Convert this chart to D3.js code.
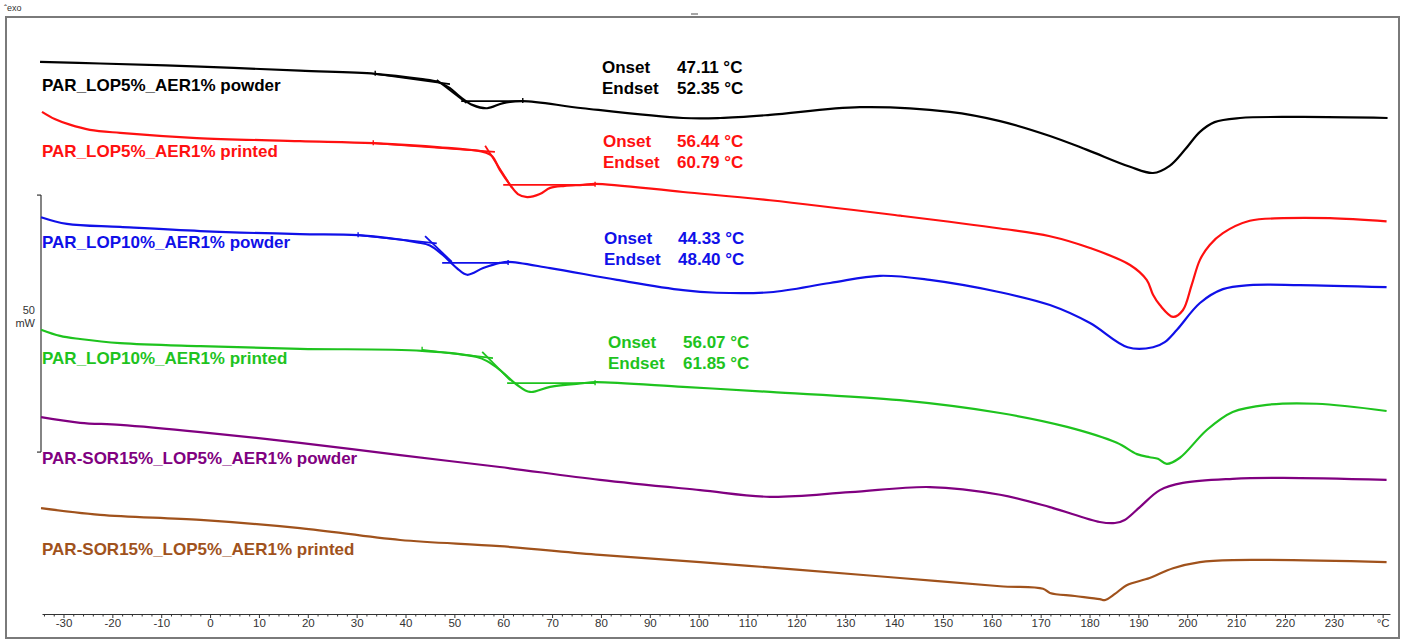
<!DOCTYPE html>
<meta charset="utf-8">
<script src="https://d3js.org/d3.v7.min.js"></script>
<style>
body { margin: 0; background: #fff; }
text { font-family: "Liberation Sans", Arial, sans-serif; }
</style>

<div id="my_dataviz"></div>

<script>

// DSC curves: [temperature °C, heat flow mW] (stacked offsets as exported)
var lop5Powder = [[-34.8,107.4],[-22.5,107.1],[-2.0,106.5],[18.4,105.7],[33.8,105.1],[43.0,104.1],[46.7,103.5],
  [49.1,102.3],[51.2,100.6],[53.8,99.0],[56.7,98.4],[60.0,99.4],[64.0,99.8],[76.3,98.4],[96.8,96.5],[104.4,96.5],
  [114.6,97.1],[133.0,98.6],[151.4,97.7],[161.7,95.9],[171.9,93.0],[179.5,90.3],[188.3,87.0],[193.0,85.8],
  [196.4,87.2],[199.5,90.3],[202.6,93.8],[205.6,95.7],[210.8,96.5],[223.0,96.7],[241.0,96.5]];

var lop5Printed = [[-34.4,97.7],[-31.8,96.3],[-28.7,95.2],[-24.6,94.2],[-18.4,93.6],[-2.7,92.6],[18.4,92.0],
  [33.4,91.6],[47.1,90.8],[55.9,89.9],[57.7,89.1],[59.3,86.4],[61.4,83.5],[63.0,81.7],[64.9,81.1],[67.5,81.7],
  [69.6,82.9],[72.6,83.3],[76.3,83.5],[78.8,83.7],[96.8,82.1],[114.6,80.5],[141.2,77.5],[161.7,75.0],[171.9,73.5],
  [180.1,71.2],[188.3,67.9],[191.7,65.0],[193.0,62.1],[194.4,60.1],[197.1,57.8],[199.1,59.1],[200.9,64.0],
  [202.6,68.9],[204.6,71.8],[207.3,74.1],[212.8,76.5],[219.6,77.0],[229.2,77.0],[240.8,76.4]];

var lop10Powder = [[-34.6,77.2],[-29.3,75.9],[-18.4,75.3],[-2.0,74.5],[18.4,73.9],[30.3,73.7],[42.4,72.3],
  [45.0,71.7],[47.7,69.8],[50.5,67.3],[52.6,66.0],[55.9,67.3],[59.3,68.3],[61.0,68.5],[69.6,67.3],[83.3,65.0],
  [96.8,63.0],[103.7,62.5],[114.6,62.6],[126.9,64.4],[137.1,65.8],[147.3,65.0],[161.7,62.6],[171.9,60.1],
  [180.1,56.6],[187.8,51.9],[193.0,51.9],[195.4,52.9],[197.9,55.3],[202.6,60.5],[207.3,63.2],[212.8,64.0],
  [223.0,64.0],[240.8,63.6]];

var lop10Printed = [[-34.6,55.3],[-30.7,54.1],[-26.6,53.5],[-18.4,52.7],[-2.0,52.1],[18.4,51.6],[43.4,51.2],
  [54.6,50.0],[56.7,49.2],[59.3,47.5],[62.8,44.6],[65.5,43.2],[69.6,44.2],[76.3,44.9],[78.8,45.1],[96.8,44.2],
  [114.6,43.2],[141.2,41.6],[161.7,39.1],[175.4,36.4],[185.6,33.3],[189.7,31.1],[192.3,30.5],[194.0,30.2],
  [195.8,29.2],[198.5,30.4],[204.0,35.8],[209.3,39.3],[216.3,40.7],[226.5,40.9],[240.8,39.5]];

var sorPowder = [[-34.6,38.3],[-26.6,37.2],[-18.4,36.8],[-2.0,35.4],[18.4,33.3],[38.9,30.9],[59.3,28.6],
  [79.8,26.1],[100.3,24.1],[114.6,22.8],[131.0,23.7],[147.3,24.7],[161.7,23.2],[171.9,20.8],[182.1,17.9],
  [185.2,17.7],[187.2,18.3],[190.3,20.8],[194.4,24.1],[199.1,25.5],[209.3,26.3],[219.6,26.5],[240.8,26.1]];

var sorPrinted = [[-34.6,20.6],[-22.5,19.3],[-2.0,18.3],[18.4,16.7],[38.9,14.4],[59.3,13.2],[79.8,11.5],
  [100.3,10.1],[120.7,8.6],[141.2,7.0],[161.7,5.4],[170.5,4.9],[171.9,4.1],[177.0,3.5],[182.1,2.9],[183.1,2.7],
  [185.2,3.9],[187.6,5.6],[192.3,7.0],[197.1,8.9],[202.6,10.1],[209.3,10.5],[240.8,10.1]];

var sampleNames = ["PAR_LOP5%_AER1% powder", "PAR_LOP5%_AER1% printed", "PAR_LOP10%_AER1% powder",
  "PAR_LOP10%_AER1% printed", "PAR-SOR15%_LOP5%_AER1% powder", "PAR-SOR15%_LOP5%_AER1% printed"];

// glass transition evaluation (first four curves)
var onsetVals = [47.11, 56.44, 44.33, 56.07];
var endsetVals = [52.35, 60.79, 48.40, 61.85];

// construction lines: pre baseline, inflection tangent, post baseline
var tangentLines = [
  [[[33.8,105.1],[49.1,103.1]], [[46.4,103.9],[52.5,99.4]], [[51.4,99.8],[64.0,99.8]]],
  [[[33.4,91.6],[58.3,89.9]], [[56.3,91.1],[61.8,82.9]], [[60.0,83.5],[78.8,83.5]]],
  [[[30.3,73.7],[46.4,72.1]], [[44.0,73.5],[49.5,68.5]], [[47.5,68.3],[61.0,68.3]]],
  [[[43.4,51.4],[57.9,49.8]], [[55.7,51.0],[61.4,45.5]], [[60.8,44.9],[78.8,44.9]]]
];

var tickTemps = d3.range(-34, 242, 2);
var scaleBar = [31.5, 81.5]; // 50 mW

var colors = ["#000000", "#ff1010", "#1010e8", "#1ec31e", "#800080", "#a0521c"];
var curves = [lop5Powder, lop5Printed, lop10Powder, lop10Printed, sorPowder, sorPrinted];

var W = 1407, H = 642;
var svg = d3.select("#my_dataviz").append("svg")
  .attr("width", W).attr("height", H);

var x = d3.scaleLinear().domain([-34.4, 241.5]).range([42, 1390]);
var y = d3.scaleLinear().domain([0, 50]).range([614, 357]);

// frame
svg.append("rect")
  .attr("x", 6).attr("y", 17).attr("width", 1393).attr("height", 621)
  .attr("fill", "none").attr("stroke", "#7a7a7a").attr("stroke-width", 2);
svg.append("text").attr("x", 4).attr("y", 11).attr("font-size", 9).attr("fill", "#333").text("\u02c6exo");
svg.append("line").attr("x1", 691).attr("x2", 698).attr("y1", 14).attr("y2", 14)
  .attr("stroke", "#888").attr("stroke-width", 1.5);

// x axis
var xAxis = svg.append("g")
  .attr("transform", "translate(0,614)")
  .call(d3.axisBottom(x).tickValues(tickTemps).tickSize(3).tickSizeOuter(0)
    .tickFormat(function(d) { return d % 10 === 0 ? (d === 240 ? "\u00b0C" : d) : ""; }));
xAxis.select(".domain").attr("stroke", "#333");
xAxis.selectAll(".tick line").attr("stroke", "#333")
  .attr("y2", function(d) { return d % 10 === 0 ? 4 : 2.5; });
xAxis.selectAll(".tick text")
  .attr("y", 12.5).attr("dy", 0).attr("font-size", 11.5).attr("fill", "#333")
  .style("font-family", "'Liberation Sans', Arial, sans-serif");

// scale bar
var bar = svg.append("g").attr("stroke", "#333").attr("stroke-width", 1.2);
bar.append("line").attr("x1", 41).attr("x2", 41).attr("y1", y(scaleBar[0])).attr("y2", y(scaleBar[1]));
scaleBar.forEach(function(v) {
  bar.append("line").attr("x1", 37).attr("x2", 41).attr("y1", y(v)).attr("y2", y(v));
});
svg.append("text").attr("x", 35).attr("y", 314).attr("text-anchor", "end").attr("font-size", 11)
  .attr("fill", "#333").text("50");
svg.append("text").attr("x", 35).attr("y", 327).attr("text-anchor", "end").attr("font-size", 11)
  .attr("fill", "#333").text("mW");

// curves
var line = d3.line()
  .x(function(d) { return x(d[0]); })
  .y(function(d) { return y(d[1]); })
  .curve(d3.curveCatmullRom.alpha(0.5));

svg.selectAll(".curve")
  .data(curves)
  .enter().append("path")
    .attr("class", "curve")
    .attr("d", line)
    .attr("fill", "none")
    .attr("stroke", function(d, i) { return colors[i]; })
    .attr("stroke-width", 2.2);

// tangent constructions + limit ticks
var straight = d3.line().x(function(d) { return x(d[0]); }).y(function(d) { return y(d[1]); });
tangentLines.forEach(function(set, i) {
  var g = svg.append("g").attr("stroke", colors[i]).attr("fill", "none").attr("stroke-width", 1.8);
  set.forEach(function(seg) { g.append("path").attr("d", straight(seg)); });
  [set[0][0], set[2][1]].forEach(function(p) {
    g.append("line").attr("x1", x(p[0])).attr("x2", x(p[0]))
      .attr("y1", y(p[1]) - 3).attr("y2", y(p[1]) + 2).attr("stroke-width", 1.4);
  });
});

// sample labels
var labelY = [91, 157, 248, 364, 464, 555];
svg.selectAll(".lbl")
  .data(sampleNames)
  .enter().append("text")
    .attr("class", "lbl")
    .attr("x", 42)
    .attr("y", function(d, i) { return labelY[i]; })
    .attr("font-size", 17).attr("font-weight", "bold")
    .attr("fill", function(d, i) { return colors[i]; })
    .text(function(d) { return d; });

// onset / endset annotations
var annX = [602, 603, 604, 608];
var annValX = [677, 677, 678, 683];
var annY = [73, 147, 244, 348];
onsetVals.forEach(function(v, i) {
  var g = svg.append("g").attr("fill", colors[i]).attr("font-size", 17).attr("font-weight", "bold");
  g.append("text").attr("x", annX[i]).attr("y", annY[i]).text("Onset");
  g.append("text").attr("x", annValX[i]).attr("y", annY[i]).text(v.toFixed(2) + " \u00b0C");
  g.append("text").attr("x", annX[i]).attr("y", annY[i] + 20.5).text("Endset");
  g.append("text").attr("x", annValX[i]).attr("y", annY[i] + 20.5).text(endsetVals[i].toFixed(2) + " \u00b0C");
});

</script>
